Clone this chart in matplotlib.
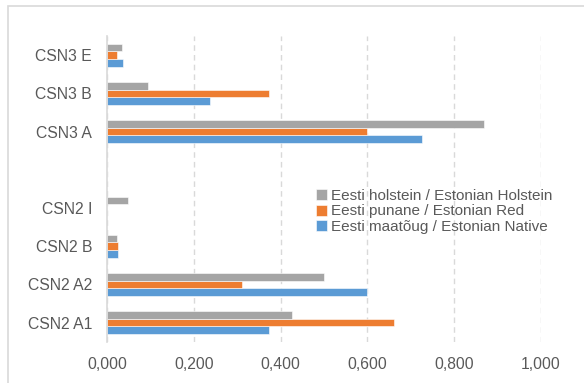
import numpy as np
import matplotlib
matplotlib.use("Agg")
import matplotlib.pyplot as plt
from matplotlib.patches import Rectangle

# Categories from bottom to top, an empty slot separates CSN2 and CSN3
categories = ["CSN2 A1", "CSN2 A2", "CSN2 B", "CSN2 I", "", "CSN3 A", "CSN3 B", "CSN3 E"]

native = [0.374, 0.600, 0.024, 0.0, 0.0, 0.725, 0.236, 0.036]
red = [0.662, 0.311, 0.024, 0.0, 0.0, 0.600, 0.374, 0.023]
holstein = [0.427, 0.499, 0.022, 0.047, 0.0, 0.869, 0.093, 0.034]

x_ticks = [0.0, 0.2, 0.4, 0.6, 0.8, 1.0]
x_labels = ["0,000", "0,200", "0,400", "0,600", "0,800", "1,000"]

plt.rcParams["font.family"] = ["Liberation Sans", "DejaVu Sans"]
text_color = "#595959"

fig = plt.figure(figsize=(5.84, 3.83), dpi=100)
ax = fig.add_axes([0.1838, 0.1078, 0.7421, 0.7982])

# outer chart border (only top and left visible)
fig.patches.append(Rectangle((8 / 584, -0.1), 1.2, 1 - 6 / 383 + 0.1,
                             transform=fig.transFigure, fill=False,
                             edgecolor="#D9D9D9", lw=1.2))

y = np.arange(len(categories))
h = 0.2
ax.barh(y - h, native, height=h, color="#5B9BD5", edgecolor="white", lw=0.4,
        label="Eesti maatõug / Estonian Native")
ax.barh(y, red, height=h, color="#ED7D31", edgecolor="white", lw=0.4,
        label="Eesti punane / Estonian Red")
ax.barh(y + h, holstein, height=h, color="#A5A5A5", edgecolor="white", lw=0.4,
        label="Eesti holstein / Estonian Holstein")

ax.set_xlim(0, 1.0)
ax.set_ylim(-0.5, len(categories) - 0.5)
ax.set_yticks(y)
ax.set_yticklabels(categories)
ax.set_xticks(x_ticks)
ax.set_xticklabels(x_labels)
ax.tick_params(length=0, labelsize=11.3, labelcolor=text_color)
ax.tick_params(axis="y", pad=11)
ax.tick_params(axis="x", pad=11)

ax.grid(axis="x", color="#D9D9D9", linestyle=(0, (4, 3)), lw=1)
ax.set_axisbelow(True)
for side in ["top", "right", "bottom"]:
    ax.spines[side].set_visible(False)
ax.spines["left"].set_color("#D9D9D9")
ax.spines["left"].set_linewidth(1.2)

handles, labels = ax.get_legend_handles_labels()
leg = fig.legend(handles[::-1], labels[::-1], loc="center left",
                 bbox_to_anchor=(316 / 584, 1 - 211.5 / 383), frameon=False,
                 fontsize=11, handlelength=0.7, handleheight=0.7,
                 handletextpad=0.3, labelspacing=0.1, borderpad=0,
                 borderaxespad=0)
for t in leg.get_texts():
    t.set_color(text_color)

fig.savefig("out.png", dpi=100)
